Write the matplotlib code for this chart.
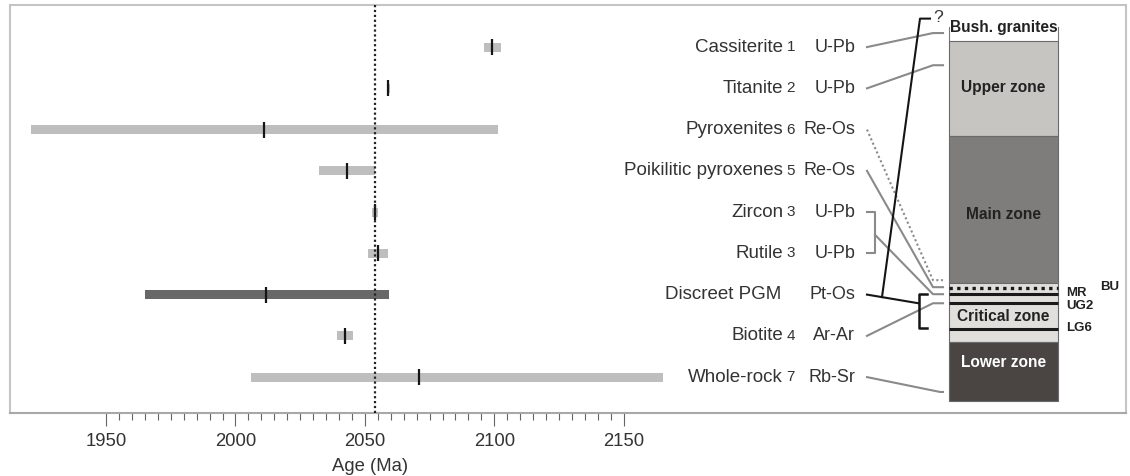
# libraries
import numpy as np
import matplotlib.pyplot as plt

plt.rcParams['font.family'] = ['Liberation Sans', 'DejaVu Sans']

# dated samples, top to bottom
minerals = ['Cassiterite', 'Titanite', 'Pyroxenites', 'Poikilitic pyroxenes', 'Zircon',
            'Rutile', 'Discreet PGM', 'Biotite', 'Whole-rock']
refs = ['1', '2', '6', '5', '3', '3', '', '4', '7']
methods = ['U-Pb', 'U-Pb', 'Re-Os', 'Re-Os', 'U-Pb', 'U-Pb', 'Pt-Os', 'Ar-Ar', 'Rb-Sr']

# ages in Ma (best estimate and error range)
age_best = [2099.2, 2059.1, 2011.2, 2043.2, 2054.0, 2055.2, 2011.9, 2042.3, 2071.0]
age_low = [2096.0, 2058.4, 1920.9, 2032.3, 2052.7, 2051.1, 1965.0, 2039.1, 2006.1]
age_high = [2102.5, 2059.8, 2101.6, 2053.9, 2055.0, 2058.8, 2059.2, 2045.5, 2165.3]

# reference age (dotted line)
ref_age = 2054.0

# stratigraphic column of the Bushveld complex (same vertical units as the rows)
zones = ['Bush. granites', 'Upper zone', 'Main zone', 'Critical zone', 'Lower zone']
zone_top = [-0.46, -0.14, 2.16, 5.73, 7.14]
zone_base = [-0.14, 2.16, 5.73, 7.14, 8.57]
layers = ['BU', 'MR', 'UG2', 'LG6']
layer_level = [5.83, 5.98, 6.21, 6.84]

# level of the column each sample is linked to
link_level = [-0.34, 0.44, 5.65, 5.82, 5.99, 5.99, 6.21, 6.21, 8.36]

rows = np.arange(len(minerals))

fig = plt.figure(figsize=(11.3, 4.76), dpi=100)
rect = [10 / 1130, 63 / 476, 1116 / 1130, 408 / 476]
ax = fig.add_axes(rect)

# age bars
bar_colors = ['#bebebe'] * len(minerals)
bar_colors[6] = '#686868'
ax.barh(rows, np.array(age_high) - np.array(age_low), left=age_low, height=0.22,
        color=bar_colors, zorder=2)
ax.plot(age_best, rows, ls='none', marker='|', ms=11.5, mew=1.6, color='#151515', zorder=3)
ax.axvline(ref_age, color='#222222', ls=(0, (1, 1.2)), lw=1.6, zorder=4)

ax.set_xlim(1912.9, 2344.05)
ax.set_ylim(8.87, -1.02)
ax.set_yticks([])
ax.set_xticks(range(1950, 2151, 50))
ax.set_xticks(range(1950, 2151, 5), minor=True)
ax.tick_params(axis='x', which='major', length=9.5, width=0.8, color='#666666',
               labelsize=13.3, labelcolor='#333333', pad=5)
ax.tick_params(axis='x', which='minor', length=5, width=0.8, color='#666666')
for s in ax.spines.values():
    s.set_color('#c4c4c4')
    s.set_linewidth(1.5)
ax.spines['bottom'].set_color('#a8a8a8')
ax.text(2052, -0.13, 'Age (Ma)', transform=ax.get_xaxis_transform(), ha='center',
        va='center', fontsize=13.3, color='#333333')

# overlay for labels, links and column (x in pixels, y in rows)
ax2 = fig.add_axes(rect, sharey=ax)
ax2.set_xlim(10, 1126)
ax2.axis('off')

txt = '#333333'
for i in rows:
    name_x = 783 if refs[i] else 781
    ax2.text(name_x, i, minerals[i], ha='right', va='center', fontsize=13.5, color=txt)
    ax2.text(795, i, refs[i], ha='right', va='center', fontsize=11, color=txt)
    ax2.text(855, i, methods[i], ha='right', va='center', fontsize=13, color=txt)

gray = '#8a8a8a'
# simple links
for i in [0, 1, 3, 7, 8]:
    bend = 940 if i == 8 else 933
    ax2.plot([867, bend, 943], [i, link_level[i], link_level[i]], color=gray, lw=1.5)
# pyroxenites (dotted)
ax2.plot([867, 933, 943], [2, link_level[2], link_level[2]], color=gray, lw=1.5,
         ls=(0, (1, 1.3)))
# zircon + rutile bracket
ax2.plot([867, 875, 875, 867], [4, 4, 5, 5], color=gray, lw=1.5)
ax2.plot([875, 933, 943], [4.55, link_level[4], link_level[4]], color=gray, lw=1.5)
# discreet PGM (black)
ax2.plot([867, 918.5], [6, link_level[6]], color='#151515', lw=1.5)
ax2.plot([882, 920, 930], [6.06, -0.69, -0.69], color='#151515', lw=1.5)
ax2.plot([927, 919, 919, 927], [5.99, 5.99, 6.81, 6.81], color='#151515', lw=1.8)
ax2.text(933, -0.72, '?', ha='left', va='center', fontsize=12.5, color=txt)

# stratigraphic column
zone_colors = ['white', '#c7c5c2', '#7f7d7b', '#e0dfdc', '#4a4542']
col_x, col_w = 1003.5, 109
ax2.bar(col_x, np.array(zone_base[1:]) - np.array(zone_top[1:]), bottom=zone_top[1:],
        width=col_w, color=zone_colors[1:], edgecolor='#6a6a6a', linewidth=0.8)
ax2.plot([col_x - col_w / 2] * 2, [-0.48, zone_base[0]], color='#777777', lw=0.8)
ax2.plot([col_x + col_w / 2] * 2, [-0.48, zone_base[0]], color='#777777', lw=0.8)
ax2.hlines(layer_level[1:], col_x - col_w / 2, col_x + col_w / 2, color='#1a1a1a', lw=2.2)
ax2.hlines(layer_level[0], col_x - col_w / 2, col_x + col_w / 2, color='#1a1a1a', lw=2.4,
           linestyles=(0, (1, 1.3)))

zone_label_y = [-0.48, 0.99, 4.07, 6.52, 7.64]
zone_label_c = ['#222222', '#222222', '#222222', '#222222', 'white']
for name, yy, cc in zip(zones, zone_label_y, zone_label_c):
    ax2.text(col_x, yy, name, ha='center', va='center', fontsize=11.2,
             fontweight='bold', color=cc)

layer_label_pos = [(1100, 5.81), (1066, 5.97), (1066, 6.27), (1066, 6.82)]
for name, (xx, yy) in zip(layers, layer_label_pos):
    ax2.text(xx, yy, name, ha='left', va='center', fontsize=9.5, fontweight='bold',
             color='#222222')

fig.savefig('out.png', dpi=100)
